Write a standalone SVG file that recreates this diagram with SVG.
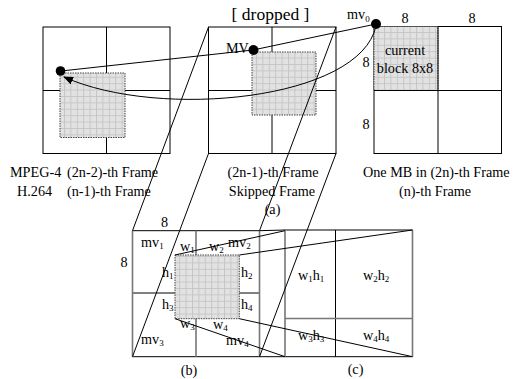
<svg xmlns="http://www.w3.org/2000/svg" width="513" height="379" viewBox="0 0 513 379">
<defs>
<pattern id="tex" width="6.4" height="6.4" patternUnits="userSpaceOnUse">
<rect width="6.4" height="6.4" fill="#e2e2e2"/>
<path d="M0 0.5H6.4M0.5 0V6.4" stroke="#c6c6c6" stroke-width="1"/>
</pattern>
<marker id="ah" markerWidth="10" markerHeight="8" refX="9" refY="4" orient="auto" markerUnits="userSpaceOnUse">
<path d="M0 0L10 4L0 8z" fill="#000"/>
</marker>
</defs>
<style>
text{font-family:"Liberation Serif","Times New Roman",serif;font-size:14.2px;fill:#000}
.box{fill:#fff;stroke:#000;stroke-width:1}
.ln{stroke:#000;stroke-width:1;fill:none}
.gl{stroke:#777;stroke-width:1.6;fill:none}
.blk{fill:url(#tex);stroke:#444;stroke-width:1;stroke-dasharray:1.5 1}
.dot{fill:#000}
.sub{font-size:9px}
.mid{text-anchor:middle}
</style>
<rect width="513" height="379" fill="#fff"/>

<g id="frame-left">
<rect class="box" x="43" y="27" width="127" height="126.5"/>
<path class="ln" d="M106.5 27V153.5M43 90.5H170"/>
<rect class="blk" x="60" y="73" width="65" height="64.5"/>
</g>

<g id="frame-mid">
<rect class="box" x="208.5" y="27" width="127.5" height="126.5"/>
<path class="ln" d="M272 27V153.5M208.5 90.5H336"/>
<rect class="blk" x="252" y="52" width="64" height="63"/>
<text x="226" y="53">MV</text>
</g>

<g id="frame-right">
<rect class="box" x="374" y="26.5" width="127.5" height="127"/>
<rect class="blk" x="374" y="26.5" width="64" height="64"/>
<path class="ln" d="M438 26.5V153.5M374 90.5H501.5"/>
<text x="405" y="55" class="mid">current</text>
<text x="405" y="73" class="mid">block 8x8</text>
<text x="405" y="23" class="mid">8</text>
<text x="472" y="23" class="mid">8</text>
<text x="366" y="67" class="mid">8</text>
<text x="366" y="129" class="mid">8</text>
<text x="347" y="18.5">mv<tspan class="sub" dy="3">0</tspan></text>
</g>

<g id="labels">
<text x="270.5" y="19.5" class="mid" style="font-size:17.5px">[ dropped ]</text>
<text x="10" y="177">MPEG-4</text>
<text x="67" y="177">(2n-2)-th Frame</text>
<text x="17" y="196">H.264</text>
<text x="67" y="196">(n-1)-th Frame</text>
<text x="273" y="177" class="mid">(2n-1)-th Frame</text>
<text x="272" y="196" class="mid">Skipped Frame</text>
<text x="272.5" y="214" class="mid">(a)</text>
<text x="363" y="177">One MB in (2n)-th Frame</text>
<text x="435" y="196" class="mid">(n)-th Frame</text>
</g>

<g id="block-b">
<path class="ln" d="M132.5 230.7H259.5M132.5 356.7H259.5M132.5 293H259.5"/>
<path class="gl" d="M132.5 230.7V356.7M196 230.7V356.7M259.5 230.7V356.7"/>
<rect class="blk" x="175" y="255" width="64.3" height="63.7"/>
<text x="164.5" y="227" class="mid">8</text>
<text x="124" y="267" class="mid">8</text>
<text x="141" y="247">mv<tspan class="sub" dy="2">1</tspan></text>
<text x="180" y="250.5">w<tspan class="sub" dy="2">1</tspan></text>
<text x="209" y="250.5">w<tspan class="sub" dy="2">2</tspan></text>
<text x="228" y="246.5">mv<tspan class="sub" dy="2">2</tspan></text>
<text x="162" y="276.5">h<tspan class="sub" dy="2">1</tspan></text>
<text x="241" y="276.5">h<tspan class="sub" dy="2">2</tspan></text>
<text x="162" y="309">h<tspan class="sub" dy="2">3</tspan></text>
<text x="241" y="309">h<tspan class="sub" dy="2">4</tspan></text>
<text x="180" y="328">w<tspan class="sub" dy="2">3</tspan></text>
<text x="213" y="329">w<tspan class="sub" dy="2">4</tspan></text>
<text x="141" y="344">mv<tspan class="sub" dy="2">3</tspan></text>
<text x="226" y="345">mv<tspan class="sub" dy="2">4</tspan></text>
<text x="189" y="375" class="mid">(b)</text>
</g>

<g id="block-c">
<path class="ln" d="M259.5 230.7L285 230H412.5M259.5 356.7H412.5M335.5 230V356.7"/>
<path class="gl" d="M285 230V356.7M412.5 230V356.7M285 318.5H412.5"/>
<text x="298" y="280">w<tspan class="sub" dy="2">1</tspan><tspan dy="-2">h</tspan><tspan class="sub" dy="2">1</tspan></text>
<text x="363" y="280">w<tspan class="sub" dy="2">2</tspan><tspan dy="-2">h</tspan><tspan class="sub" dy="2">2</tspan></text>
<text x="298" y="340">w<tspan class="sub" dy="2">3</tspan><tspan dy="-2">h</tspan><tspan class="sub" dy="2">3</tspan></text>
<text x="363" y="340">w<tspan class="sub" dy="2">4</tspan><tspan dy="-2">h</tspan><tspan class="sub" dy="2">4</tspan></text>
<text x="355.5" y="374" class="mid">(c)</text>
</g>

<g id="connectors">
<path class="ln" d="M208.5 27L132.5 230.7M208.5 153.5L132.5 356.7M336 27L259.5 230.7M336 153.5L259.5 356.7"/>
<path class="ln" d="M175 255L285 230.7M239.3 255L412.5 230M175 318.7L285 356.7M239.3 318.7L412.5 356.7"/>
<path class="ln" d="M376 24L253 50L61 71"/>
<path class="ln" d="M376 26C360 100 160 120 64 77" marker-end="url(#ah)"/>
<circle class="dot" cx="60.5" cy="71" r="4.8"/>
<circle class="dot" cx="253.5" cy="50" r="5"/>
<circle class="dot" cx="376" cy="24" r="5"/>
</g>
</svg>
